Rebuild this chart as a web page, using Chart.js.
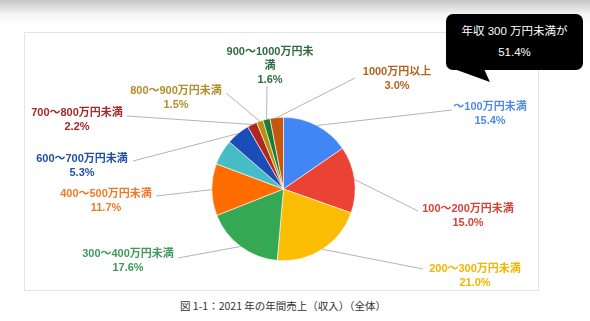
<!DOCTYPE html>
<html>
<head>
<meta charset="utf-8">
<script src="https://cdn.jsdelivr.net/npm/chart.js@4"></script>
<style>
  html, body { margin: 0; padding: 0; }
  body {
    width: 590px; height: 321px; position: relative; overflow: hidden;
    background: linear-gradient(#c6c6c6 0px, #f4f4f4 14px, #ffffff 24px);
    font-family: "Liberation Sans", "Noto Sans CJK JP", sans-serif;
  }
  #card {
    position: absolute; left: 24px; top: 32px; width: 513px; height: 257px;
    background: #fff; border: 1px solid #e4e4e4;
  }
  #below {
    position: absolute; left: 0; top: 291px; width: 590px; height: 30px; background: #fff;
  }
  #caption {
    position: absolute; left: 180px; top: 299px; font-size: 10.5px; color: #333;
    white-space: nowrap; line-height: 14px; font-family: "Noto Sans CJK JP", sans-serif;
  }
  #chart { position: absolute; left: 0; top: 0; }
  #callout {
    position: absolute; left: 446px; top: 14px; width: 137px; height: 56px;
    background: #000; border-radius: 7px; color: #fff; text-align: center;
    font-size: 11.5px; line-height: 21px; padding-top: 7px; box-sizing: border-box;
  }
  #callout:after {
    content: ""; position: absolute; left: 11px; top: 55px;
    border-style: solid; border-width: 0 30px 13px 0;
    border-color: transparent #000 transparent transparent;
    transform: skewX(24deg);
  }
</style>
</head>
<body>
<div id="card"></div>
<div id="below"></div>
<div id="caption">図 1-1：2021 年の年間売上（収入）（全体）</div>
<canvas id="chart" width="590" height="321"></canvas>
<div id="callout">年収 300 万円未満が<br>51.4%</div>
<script>
const categories = ['～100万円未満', '100～200万円未満', '200～300万円未満', '300～400万円未満',
  '400～500万円未満', '500～600万円未満', '600～700万円未満', '700～800万円未満',
  '800～900万円未満', '900～1000万円未満', '1000万円以上'];
const shares = [15.4, 15.0, 21.0, 17.6, 11.7, 5.7, 5.3, 2.2, 1.5, 1.6, 3.0];
const sliceColors = ['#4285f4', '#ea4335', '#fbbc04', '#34a853', '#ff6d01', '#46bdc6',
  '#1a4db8', '#b3261e', '#b8900c', '#1f7a3a', '#c4580d'];
const labelColors = ['#4f8be6', '#d0453a', '#f2b600', '#3f9a5c', '#ee7a28', '#46bdc6',
  '#1f4fa8', '#a3292a', '#b38d2a', '#2f6b40', '#b4641c'];

// label placement: text centre x, first line y, leader end point, optional line break
const labelLayout = [
  { x: 490, y: 107, ex: 452, ey: 110 },
  { x: 468, y: 209, ex: 418, ey: 211 },
  { x: 475, y: 269, ex: 423, ey: 269 },
  { x: 128, y: 254, ex: 178, ey: 258 },
  { x: 106, y: 194, ex: 156, ey: 196 },
  null,
  { x: 82, y: 159, ex: 133, ey: 161 },
  { x: 77, y: 113, ex: 127, ey: 116 },
  { x: 176, y: 91, ex: 226, ey: 93 },
  { x: 270, y: 52, ex: 267, ey: 86, split: 11 },
  { x: 397, y: 72, ex: 355, ey: 78 }
];

const leaderLabels = {
  id: 'leaderLabels',
  afterDatasetsDraw(chart) {
    const ctx = chart.ctx;
    const arcs = chart.getDatasetMeta(0).data;
    ctx.save();
    arcs.forEach((arc, i) => {
      const lay = labelLayout[i];
      if (!lay) return;
      const p = arc.getProps(['x', 'y', 'startAngle', 'endAngle', 'outerRadius'], true);
      const mid = (p.startAngle + p.endAngle) / 2;
      const ax = p.x + Math.cos(mid) * p.outerRadius;
      const ay = p.y + Math.sin(mid) * p.outerRadius;
      ctx.strokeStyle = '#b4b4b4';
      ctx.lineWidth = 1;
      ctx.beginPath();
      ctx.moveTo(ax, ay);
      ctx.lineTo(lay.ex, lay.ey);
      ctx.stroke();

      let lines = [categories[i]];
      if (lay.split) lines = [categories[i].slice(0, lay.split), categories[i].slice(lay.split)];
      lines.push(shares[i].toFixed(1) + '%');
      ctx.fillStyle = labelColors[i];
      ctx.font = 'bold 11px "Liberation Sans", "Noto Sans CJK JP", sans-serif';
      ctx.textAlign = 'center';
      ctx.textBaseline = 'middle';
      lines.forEach((t, k) => ctx.fillText(t, lay.x, lay.y + k * 14));
    });
    ctx.restore();
  }
};

new Chart(document.getElementById('chart').getContext('2d'), {
  type: 'pie',
  data: {
    labels: categories,
    datasets: [{
      data: shares,
      backgroundColor: sliceColors,
      borderColor: '#ffffff',
      borderWidth: 0.6
    }]
  },
  options: {
    responsive: false,
    animation: false,
    layout: { padding: { left: 211.5, right: 234.5, top: 117, bottom: 60 } },
    plugins: {
      legend: { display: false },
      tooltip: { enabled: false }
    }
  },
  plugins: [leaderLabels]
});
</script>
</body>
</html>
